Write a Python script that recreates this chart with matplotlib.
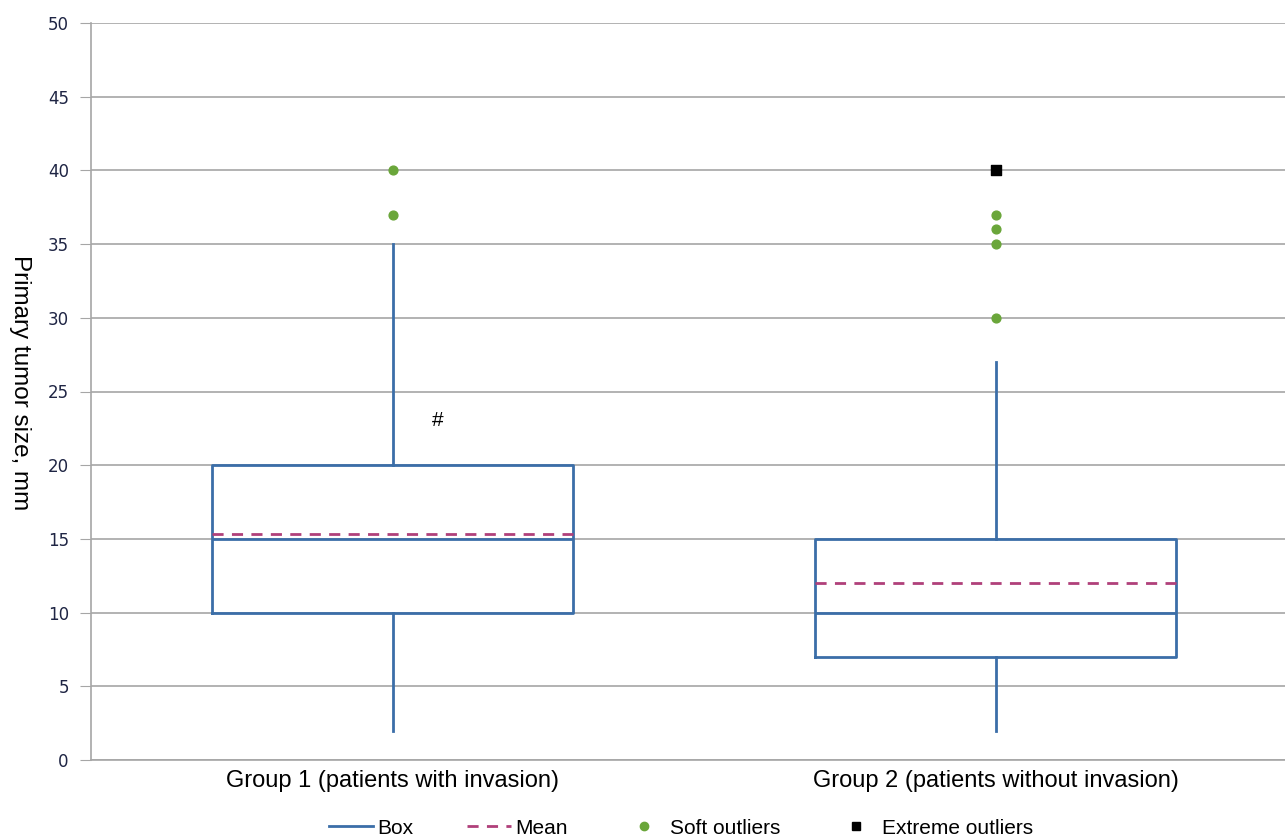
import matplotlib
matplotlib.use('Agg')
import matplotlib.pyplot as plt
from matplotlib.lines import Line2D

# box statistics
groups = ['Group 1 (patients with invasion)', 'Group 2 (patients without invasion)']
whisker_low = [2, 2]
q1 = [10, 7]
median = [15, 10]
q3 = [20, 15]
whisker_high = [35, 27]
means = [15.3, 12]
soft_outliers = [[37, 40], [30, 35, 36, 37]]
extreme_outliers = [[], [40]]
y_ticks = [0, 5, 10, 15, 20, 25, 30, 35, 40, 45, 50]

blue = '#3b6ea8'
green = '#6aa63a'
magenta = '#b0407a'
grid_col = '#a6a6a6'

fig = plt.figure(figsize=(12.85, 8.4), dpi=100)
ax = fig.add_axes([91 / 1285, 80 / 840, 1206 / 1285, 737 / 840])

stats = []
for i in range(len(groups)):
    stats.append(dict(whislo=whisker_low[i], q1=q1[i], med=median[i], q3=q3[i],
                      whishi=whisker_high[i], mean=means[i], fliers=[]))
pos = list(range(len(groups)))
ax.bxp(stats, positions=pos, widths=0.6, showmeans=True, meanline=True,
       showcaps=False, showfliers=False,
       boxprops=dict(color=blue, linewidth=2),
       whiskerprops=dict(color=blue, linewidth=2),
       medianprops=dict(color=blue, linewidth=2),
       meanprops=dict(color=magenta, linewidth=2, linestyle=(0, (4, 3))),
       zorder=3)

for i in pos:
    ax.scatter([i] * len(soft_outliers[i]), soft_outliers[i], s=40, color=green, zorder=4)
    if extreme_outliers[i]:
        ax.scatter([i] * len(extreme_outliers[i]), extreme_outliers[i], s=55,
                   marker='s', color='black', zorder=5)

ax.text(0.075, 23.0, '#', fontsize=15, ha='center', va='center', family='Liberation Sans')

ax.set_xlim(-0.5, 1.5)
ax.set_ylim(0, 50)
ax.set_yticks(y_ticks)
ax.yaxis.grid(True, color=grid_col, linewidth=1.2)
ax.set_axisbelow(True)
ax.tick_params(axis='y', length=8, color=grid_col, labelsize=12, labelcolor='#1f2544', pad=8)
ax.tick_params(axis='x', length=0, labelsize=17, pad=7)
ax.set_xticks(pos)
ax.set_xticklabels(groups, family='Liberation Sans')
for s in ['top', 'right']:
    ax.spines[s].set_visible(False)
for s in ['left', 'bottom']:
    ax.spines[s].set_color(grid_col)
    ax.spines[s].set_linewidth(1.2)

fig.text(20 / 1285, 1 - 383 / 840, 'Primary tumor size, mm', rotation=270, fontsize=17.5,
         ha='center', va='center', family='Liberation Sans')

handles = [
    Line2D([], [], color=blue, linewidth=2),
    Line2D([], [], color=magenta, linewidth=2, linestyle=(0, (4, 3))),
    Line2D([], [], color=green, marker='o', linestyle='none', markersize=6),
    Line2D([], [], color='black', marker='s', linestyle='none', markersize=6),
]
labels = ['Box', 'Mean', 'Soft outliers', 'Extreme outliers']
fig.legend(handles, labels, loc='center', bbox_to_anchor=(681 / 1285, 1 - 828 / 840), ncol=4,
           frameon=False, prop=dict(family='Liberation Sans', size=15),
           handlelength=2.1, handletextpad=0.2, columnspacing=2.6, borderpad=0)

fig.savefig('out.png', dpi=100)
